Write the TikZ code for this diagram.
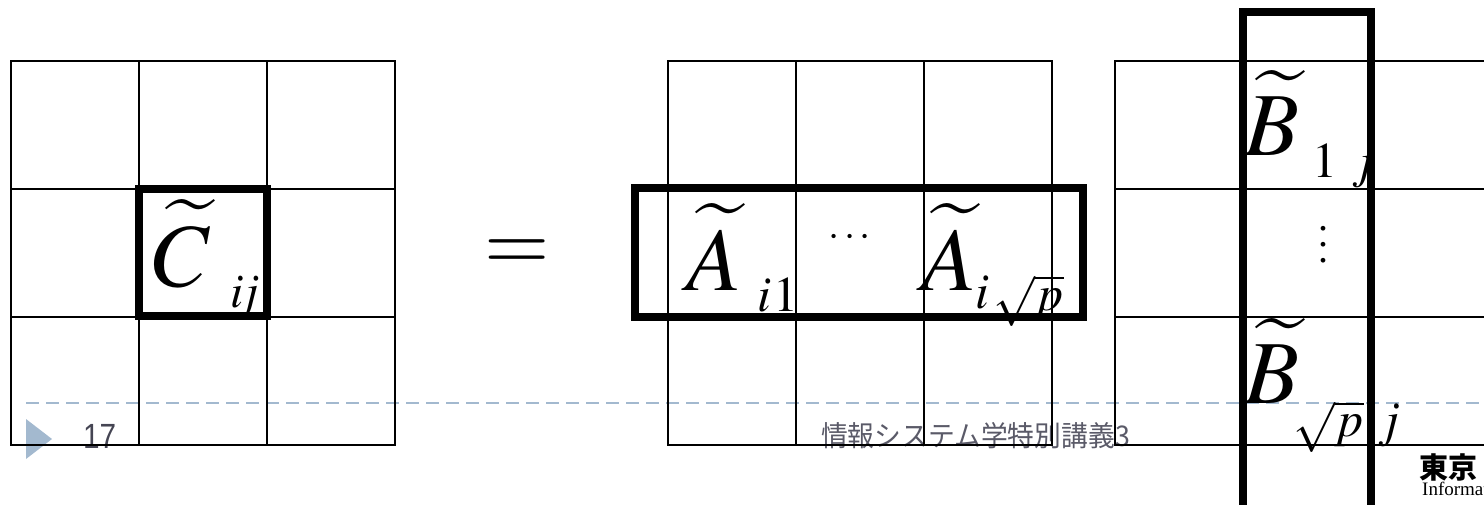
\documentclass[tikz,border=0pt]{standalone}
\usepackage{mathptmx}
\usepackage[no-math]{fontspec}
\setmainfont{Liberation Serif}
\newfontfamily\cjk{Noto Sans CJK JP}
\newfontfamily\footsans{Liberation Sans}
\definecolor{footblue}{HTML}{A3B9CF}
\definecolor{numgray}{HTML}{454553}
\definecolor{titlegray}{HTML}{5A5A68}
\tikzset{
  gridline/.style={line width=2.5pt, line cap=rect},
  thickbox/.style={line width=8pt, line cap=rect},
  bigletter/.style={font=\fontsize{90}{90}\selectfont, inner sep=0pt, anchor=base west},
  sublabel/.style={font=\fontsize{50}{50}\selectfont, inner sep=0pt, anchor=base west},
}
\begin{document}
\begin{tikzpicture}[x=1pt,y=-1pt]
\useasboundingbox (0,0) rectangle (1484,504);
\clip (0,0) rectangle (1484,504);
% footer (slide master)
\fill[footblue] (26,419) -- (52,439) -- (26,459) -- cycle;
\draw[footblue, line width=2pt, dash pattern=on 13pt off 7pt] (26,403) -- (1490,403);
\node[font=\footsans\fontsize{35}{35}\selectfont, text=numgray, anchor=base west, inner sep=0pt, xscale=0.85] (pg) at (83,448) {17};
\node[font=\cjk\fontsize{28.5}{28.5}\selectfont, text=titlegray, anchor=west, inner sep=0pt, xscale=0.94] (title) at (821,436) {情報システム学特別講義3};
\node[font=\cjk\bfseries\fontsize{29}{29}\selectfont, anchor=west, inner sep=0pt] (logo) at (1419,467) {東京};
\node[font=\fontsize{19}{19}\selectfont, anchor=base west, inner sep=0pt] (logoen) at (1422,495) {Informat};
% left grid
\foreach \x in {11,139,267,395} \draw[gridline] (\x,61) -- (\x,445);
\foreach \y in {61,189,317,445} \draw[gridline] (11,\y) -- (395,\y);
% middle grid
\foreach \x in {668,796,924,1052} \draw[gridline] (\x,61) -- (\x,445);
\foreach \y in {61,189,317,445} \draw[gridline] (668,\y) -- (1052,\y);
% right grid
\foreach \x in {1115,1243,1371} \draw[gridline] (\x,61) -- (\x,445);
\foreach \y in {61,189,317,445} \draw[gridline] (1115,\y) -- (1490,\y);
% thick boxes
\draw[thickbox] (139,189) rectangle (267,316);
\draw[thickbox] (635,188) rectangle (1083,317);
\draw[thickbox] (1243,12) rectangle (1371,530);
% C
\node[bigletter] (c) at (153,286) {$\widetilde{C}$};
\node[sublabel, font=\fontsize{48}{48}\selectfont] (cij) at (230,307) {$i\!j$};
% equals
\node[font=\fontsize{84}{84}\selectfont, inner sep=0pt] (eq) at (517,255) {$=$};
% A row
\node[bigletter] (a1) at (686,290) {$\widetilde{A}$};
\node[sublabel] (a1i) at (757,311) {$i$};
\node[sublabel] (a1o) at (773,311) {$1$};
\node[font=\fontsize{40}{40}\selectfont, inner sep=0pt, anchor=base] (hdots) at (850,246) {$\cdots$};
\node[bigletter] (a2) at (921,290) {$\widetilde{A}$};
\node[sublabel] (a2i) at (975,308) {$i$};
\node[sublabel] (a2p) at (993,310) {$\sqrt{p}$};
% B column
\node[bigletter] (b1) at (1244,155) {$\widetilde{B}$};
\node[sublabel] (b1o) at (1312,177) {$1$};
\node[sublabel] (b1j) at (1352,177) {$j$};
\node[font=\fontsize{40}{16}\selectfont, inner sep=0pt, align=center] (vdots) at (1323,245) {.\\.\\.};
\node[bigletter] (b2) at (1244,403) {$\widetilde{B}$};
\node[sublabel] (b2p) at (1293,436) {$\sqrt{p}$};
\node[sublabel] (b2j) at (1378,436) {$j$};
\end{tikzpicture}
\end{document}
